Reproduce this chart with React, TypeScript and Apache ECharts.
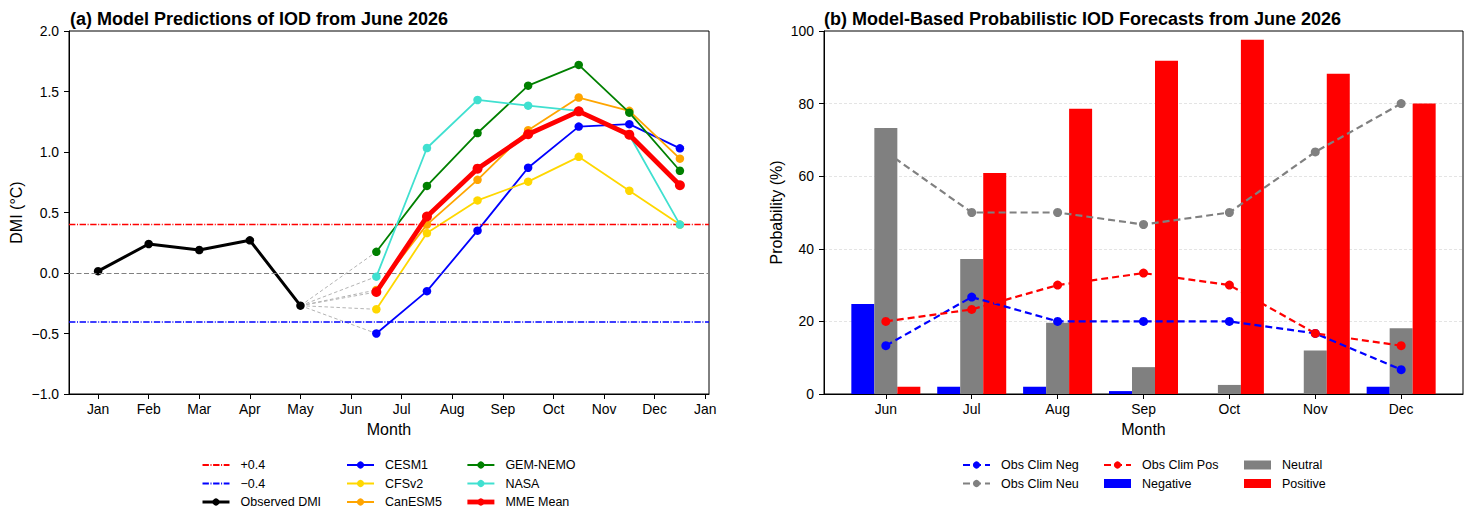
import React, { useEffect, useRef } from "react";
import * as echarts from "echarts";

// ---------- Data: panel (a) ----------
const MONTH_TICK_LABELS = ["Jan", "Feb", "Mar", "Apr", "May", "Jun", "Jul", "Aug", "Sep", "Oct", "Nov", "Dec", "Jan"];
const MONTH_TICK_VALUES = [1, 2, 3, 4, 5, 6, 7, 8, 9, 10, 11, 12, 13];
const OBS_MONTHS = [1, 2, 3, 4, 5];
const OBS_DMI = [0.015, 0.24, 0.19, 0.27, -0.27];
const FC_MONTHS = [6.5, 7.5, 8.5, 9.5, 10.5, 11.5, 12.5];
const CESM1 = [-0.5, -0.15, 0.35, 0.87, 1.21, 1.23, 1.03];
const CFSV2 = [-0.3, 0.33, 0.6, 0.755, 0.96, 0.68, 0.4];
const CANESM5 = [-0.14, 0.4, 0.77, 1.18, 1.45, 1.34, 0.945];
const GEMNEMO = [0.175, 0.72, 1.157, 1.548, 1.72, 1.325, 0.845];
const NASA = [-0.03, 1.033, 1.43, 1.383, 1.34, 1.14, 0.4];
const MME = [-0.157, 0.467, 0.862, 1.147, 1.336, 1.143, 0.725];
const THRESH_POS = 0.4;
const THRESH_NEG = -0.4;

// ---------- Data: panel (b) ----------
const PROB_MONTHS = ["Jun", "Jul", "Aug", "Sep", "Oct", "Nov", "Dec"];
const NEGATIVE = [24.8, 2.0, 2.0, 0.8, 0.0, 0.0, 2.0];
const NEUTRAL = [73.3, 37.2, 19.6, 7.4, 2.5, 12.0, 18.1];
const POSITIVE = [2.0, 60.9, 78.6, 91.8, 97.6, 88.2, 80.0];
const CLIM_NEG = [13.3, 26.7, 20.0, 20.0, 20.0, 16.7, 6.7];
const CLIM_NEU = [66.7, 50.0, 50.0, 46.7, 50.0, 66.7, 80.0];
const CLIM_POS = [20.0, 23.3, 30.0, 33.3, 30.0, 16.7, 13.3];

const FONT = "'Liberation Sans', Arial, Helvetica, sans-serif";
const DASH_DOT = [6.4, 1.6, 1, 1.6];

const zip = (xs: number[], ys: number[]) => xs.map((x, i) => [x, ys[i]]);
const minusFmt = (s: string) => s.replace("-", "\u2212");

export default function App() {
  const ref = useRef<HTMLDivElement>(null);

  useEffect(() => {
    if (!ref.current) return;
    const chart = echarts.init(ref.current, null, { renderer: "svg" });

    const models = [
      { name: "CESM1", data: CESM1, color: "blue" },
      { name: "CFSv2", data: CFSV2, color: "gold" },
      { name: "CanESM5", data: CANESM5, color: "orange" },
      { name: "GEM-NEMO", data: GEMNEMO, color: "green" },
      { name: "NASA", data: NASA, color: "turquoise" },
    ];
    const lastObsIdx = OBS_MONTHS.length - 1;

    const connectorSeries = [...models, { name: "MME Mean", data: MME, color: "red" }].map((m) => ({
      type: "line",
      name: "conn-" + m.name,
      xAxisIndex: 0,
      yAxisIndex: 0,
      data: [
        [OBS_MONTHS[lastObsIdx], OBS_DMI[lastObsIdx]],
        [FC_MONTHS[0], m.data[0]],
      ],
      symbol: "none",
      silent: true,
      z: 1,
      lineStyle: { color: "#b4b4b4", width: 1, type: [3.5, 2.5] },
    }));

    const hLine = (name: string, y: number, color: string, type: any, width: number, z: number) => ({
      type: "line",
      name,
      xAxisIndex: 0,
      yAxisIndex: 0,
      data: [],
      symbol: "none",
      color,
      z,
      itemStyle: { color },
      lineStyle: { color, width: 1, type },
      markLine: {
        silent: true,
        symbol: "none",
        label: { show: false },
        itemStyle: { color },
        lineStyle: { color, width, type, opacity: 1 },
        data: [{ yAxis: y, lineStyle: { color } }],
      },
    });

    const modelSeries = models.map((m, i) => ({
      type: "line",
      name: m.name,
      xAxisIndex: 0,
      yAxisIndex: 0,
      data: zip(FC_MONTHS, m.data),
      symbol: "circle",
      symbolSize: 8.5,
      z: 3 + i,
      itemStyle: { color: m.color },
      lineStyle: { color: m.color, width: 1.8 },
    }));

    const barCommon = {
      type: "bar",
      xAxisIndex: 1,
      yAxisIndex: 1,
      barWidth: 23,
      barGap: "0%",
      z: 2,
    };
    const xIdx = PROB_MONTHS.map((_, i) => i);

    const climLine = (name: string, vals: number[], color: string, z: number) => ({
      type: "line",
      name,
      xAxisIndex: 1,
      yAxisIndex: 1,
      data: zip(xIdx, vals),
      symbol: "circle",
      symbolSize: 9,
      z,
      itemStyle: { color },
      lineStyle: { color, width: 2.2, type: [7, 4] },
    });

    const legendBase = {
      orient: "vertical",
      itemWidth: 27,
      itemHeight: 9,
      itemGap: 4.5,
      selectedMode: false,
      padding: 0,
      textStyle: { fontSize: 12.5, fontFamily: FONT, color: "#000", lineHeight: 14, padding: [0, 0, 0, 6] },
    };

    const axisLabelStyle = { fontSize: 13.9, fontFamily: FONT, color: "#000" };
    const nameStyle = { fontSize: 16, fontFamily: FONT, color: "#000" };

    const option: any = {
      animation: false,
      backgroundColor: "#fff",
      title: [
        {
          text: "(a) Model Predictions of IOD from June 2026",
          left: 70,
          top: 10,
          padding: 0,
          textStyle: { fontSize: 18, fontWeight: "bold", fontFamily: FONT, color: "#000" },
        },
        {
          text: "(b) Model-Based Probabilistic IOD Forecasts from June 2026",
          left: 824,
          top: 10,
          padding: 0,
          textStyle: { fontSize: 18, fontWeight: "bold", fontFamily: FONT, color: "#000" },
        },
      ],
      legend: [
        {
          ...legendBase,
          left: 201,
          top: 458,
          data: [
            { name: "+0.4", itemStyle: { opacity: 0 } },
            { name: "\u22120.4", itemStyle: { opacity: 0 } },
            { name: "Observed DMI", lineStyle: { width: 3 } },
          ],
        },
        { ...legendBase, left: 346, top: 458, data: ["CESM1", "CFSv2", "CanESM5"] },
        {
          ...legendBase,
          left: 465,
          top: 458,
          data: ["GEM-NEMO", "NASA", { name: "MME Mean", lineStyle: { width: 4.8 } }],
        },
        { ...legendBase, left: 962, top: 458, data: ["Obs Clim Neg", "Obs Clim Neu"] },
        { ...legendBase, left: 1103, top: 458, data: ["Obs Clim Pos", { name: "Negative", icon: "rect" }] },
        { ...legendBase, left: 1244, top: 458, data: [{ name: "Neutral", icon: "rect" }, { name: "Positive", icon: "rect" }] },
      ],
      grid: [
        { left: 69, top: 31, width: 640, height: 363, show: true, borderColor: "#000", borderWidth: 1, backgroundColor: "transparent" },
        { left: 824, top: 31, width: 639, height: 363, show: true, borderColor: "#000", borderWidth: 1, backgroundColor: "transparent" },
      ],
      xAxis: [
        {
          type: "value",
          gridIndex: 0,
          min: 0.425,
          max: 13.075,
          name: "Month",
          nameLocation: "middle",
          nameGap: 27,
          nameTextStyle: nameStyle,
          axisLine: { show: true, onZero: false, lineStyle: { color: "#000", width: 1 } },
          axisTick: { show: true, inside: false, length: 5, customValues: MONTH_TICK_VALUES, lineStyle: { color: "#000" } },
          axisLabel: {
            ...axisLabelStyle,
            margin: 8,
            customValues: MONTH_TICK_VALUES,
            formatter: (v: number) => MONTH_TICK_LABELS[Math.round(v) - 1] ?? "",
          },
          splitLine: { show: false },
        },
        {
          type: "value",
          gridIndex: 1,
          min: -0.72,
          max: PROB_MONTHS.length - 1 + 0.72,
          name: "Month",
          nameLocation: "middle",
          nameGap: 27,
          nameTextStyle: nameStyle,
          axisLine: { show: true, onZero: false, lineStyle: { color: "#000", width: 1 } },
          axisTick: { show: true, length: 5, customValues: xIdx, lineStyle: { color: "#000" } },
          axisLabel: {
            ...axisLabelStyle,
            margin: 8,
            customValues: xIdx,
            formatter: (v: number) => PROB_MONTHS[Math.round(v)] ?? "",
          },
          splitLine: { show: false },
        },
      ],
      yAxis: [
        {
          type: "value",
          gridIndex: 0,
          min: -1,
          max: 2,
          interval: 0.5,
          name: "DMI (\u00b0C)",
          nameLocation: "middle",
          nameGap: 45,
          nameTextStyle: nameStyle,
          axisLine: { show: true, onZero: false, lineStyle: { color: "#000", width: 1 } },
          axisTick: { show: true, length: 5, lineStyle: { color: "#000" } },
          axisLabel: { ...axisLabelStyle, margin: 10, formatter: (v: number) => minusFmt(v.toFixed(1)) },
          splitLine: { show: false },
        },
        {
          type: "value",
          gridIndex: 1,
          min: 0,
          max: 100,
          interval: 20,
          name: "Probability (%)",
          nameLocation: "middle",
          nameGap: 40,
          nameTextStyle: nameStyle,
          axisLine: { show: true, onZero: false, lineStyle: { color: "#000", width: 1 } },
          axisTick: { show: true, length: 5, lineStyle: { color: "#000" } },
          axisLabel: { ...axisLabelStyle, margin: 10 },
          splitLine: {
            show: true,
            showMinLine: false,
            showMaxLine: false,
            lineStyle: { color: "#dddddd", width: 0.8, type: [3, 2] },
          },
        },
      ],
      series: [
        ...connectorSeries,
        hLine("+0.4", THRESH_POS, "#ff0000", DASH_DOT, 1.3, 2),
        hLine("\u22120.4", THRESH_NEG, "#0000ff", DASH_DOT, 1.5, 2),
        hLine("zero", 0, "#808080", [5, 2.5], 1.1, 2),
        {
          type: "line",
          name: "Observed DMI",
          xAxisIndex: 0,
          yAxisIndex: 0,
          data: zip(OBS_MONTHS, OBS_DMI),
          symbol: "circle",
          symbolSize: 8.5,
          z: 3,
          itemStyle: { color: "#000" },
          lineStyle: { color: "#000", width: 3 },
        },
        ...modelSeries,
        {
          type: "line",
          name: "MME Mean",
          xAxisIndex: 0,
          yAxisIndex: 0,
          data: zip(FC_MONTHS, MME),
          symbol: "circle",
          symbolSize: 10,
          z: 10,
          itemStyle: { color: "red" },
          lineStyle: { color: "red", width: 4.8 },
        },
        { ...barCommon, name: "Negative", data: zip(xIdx, NEGATIVE), itemStyle: { color: "blue" } },
        { ...barCommon, name: "Neutral", data: zip(xIdx, NEUTRAL), itemStyle: { color: "gray" } },
        { ...barCommon, name: "Positive", data: zip(xIdx, POSITIVE), itemStyle: { color: "red" } },
        climLine("Obs Clim Neg", CLIM_NEG, "blue", 5),
        climLine("Obs Clim Neu", CLIM_NEU, "gray", 5),
        climLine("Obs Clim Pos", CLIM_POS, "red", 5),
      ],
    };

    chart.setOption(option);
    return () => chart.dispose();
  }, []);

  return (
    <div
      ref={ref}
      style={{ position: "fixed", left: 0, top: 0, width: 1473, height: 525, background: "#fff" }}
    />
  );
}
